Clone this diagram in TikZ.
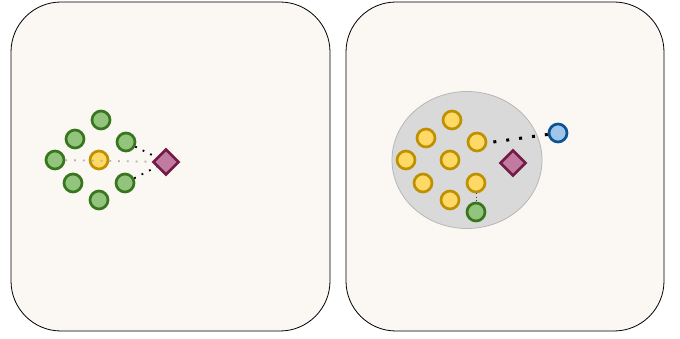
\documentclass[tikz,border=0pt]{standalone}
\usetikzlibrary{shapes.geometric}
\definecolor{bgc}{HTML}{FBF7F2}
\definecolor{gfill}{HTML}{93C47D}
\definecolor{gline}{HTML}{38761D}
\definecolor{yfill}{HTML}{FFD966}
\definecolor{yline}{HTML}{BF9000}
\definecolor{dfill}{HTML}{C27BA0}
\definecolor{dline}{HTML}{741B47}
\definecolor{bfill}{HTML}{9FC5E8}
\definecolor{bline}{HTML}{0B5394}
\definecolor{efill}{HTML}{D9D9D9}
\definecolor{eline}{HTML}{B7B7B7}
\tikzset{
  panel/.style={draw=black, fill=bgc, line width=0.8pt, rounded corners=50pt},
  gnode/.style={circle, draw=gline, fill=gfill, line width=2.7pt, minimum size=18pt, inner sep=0pt},
  ynode/.style={circle, draw=yline, fill=yfill, line width=2.7pt, minimum size=18pt, inner sep=0pt},
  bnode/.style={circle, draw=bline, fill=bfill, line width=2.7pt, minimum size=18pt, inner sep=0pt},
  dnode/.style={diamond, draw=dline, fill=dfill, line width=2.7pt, minimum size=26pt, inner sep=0pt},
  blob/.style={ellipse, draw=eline, fill=efill, line width=0.8pt, minimum width=150pt, minimum height=137pt},
  greydot/.style={draw=gray!60, line width=1.8pt, dash pattern=on 1.8pt off 7pt},
  blackdot/.style={draw=black, line width=1.8pt, dash pattern=on 1.8pt off 6.5pt},
  bigdot/.style={draw=black, line width=3pt, dash pattern=on 3pt off 10pt},
  thindot/.style={draw=black!80, line width=1pt, dash pattern=on 1pt off 2.5pt},
}
\begin{document}
\begin{tikzpicture}[x=1pt,y=-1pt]
\useasboundingbox (0,0) rectangle (680,339);
\fill[white] (0,0) rectangle (680,339);
\draw[panel] (11,2) rectangle (330,331);
\draw[panel] (346,2) rectangle (664,331);
% left panel
\node[gnode] (l1) at (101,120) {};
\node[gnode] (l2) at (75,139) {};
\node[gnode] (l3) at (126,142) {};
\node[gnode] (l4) at (55,160) {};
\node[gnode] (l6) at (73,183) {};
\node[gnode] (l7) at (125,183) {};
\node[gnode] (l8) at (99,200) {};
\node[dnode] (ld) at (166,162) {};
\node[ynode] (l5) at (99,160) {};
\draw[greydot] (l4) -- (ld);
\draw[blackdot] (l3) -- (ld);
\draw[blackdot] (l7) -- (ld);
% right panel
\node[blob] (el) at (467,160) {};
\node[ynode] (r1) at (452,120) {};
\node[ynode] (r2) at (426,138) {};
\node[ynode] (r3) at (477,142) {};
\node[ynode] (r4) at (406,160) {};
\node[ynode] (r5) at (450,160) {};
\node[ynode] (r6) at (423,183) {};
\node[ynode] (r7) at (476,183) {};
\node[ynode] (r8) at (450,200) {};
\node[gnode] (rg) at (476,212) {};
\node[dnode] (rd) at (513,163) {};
\node[bnode] (rb) at (558,133) {};
\draw[bigdot] ([xshift=6pt]r3.east) -- (rb);
\draw[thindot] (r7) -- (rg);
\end{tikzpicture}
\end{document}
